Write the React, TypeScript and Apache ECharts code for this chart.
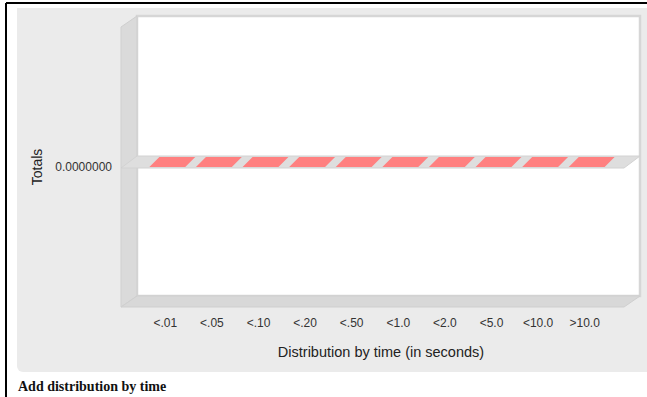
import React, { useEffect, useRef } from "react";
import * as echarts from "echarts";

const categories = ["<.01", "<.05", "<.10", "<.20", "<.50", "<1.0", "<2.0", "<5.0", "<10.0", ">10.0"];
const totals = [0, 0, 0, 0, 0, 0, 0, 0, 0, 0];
const yTickValues = [0];
const yTickLabel = "0.0000000";
const xTitle = "Distribution by time (in seconds)";
const yTitle = "Totals";
const caption = "Add distribution by time";

const DX = 16;
const DY = 11;
const FRONT_LEFT = 121;
const FRONT_RIGHT = 624;
const FRONT_TOP = 27;
const FRONT_BOTTOM = 307;
const FONT = "'Liberation Sans', Arial, sans-serif";

export default function App() {
  const ref = useRef<HTMLDivElement>(null);
  useEffect(() => {
    if (!ref.current) return;
    const chart = echarts.init(ref.current, undefined, { renderer: "svg" });
    const option: any = {
      animation: false,
      backgroundColor: "#ffffff",
      graphic: [
        { type: "line", shape: { x1: 6, y1: 3, x2: 647, y2: 3 }, style: { stroke: "#000", lineWidth: 2 }, z: -10 },
        { type: "line", shape: { x1: 6, y1: 3, x2: 6, y2: 397 }, style: { stroke: "#000", lineWidth: 2 }, z: -10 },
        { type: "rect", shape: { x: 17, y: 8, width: 640, height: 364, r: [0, 0, 0, 6] }, style: { fill: "#ebebeb" }, z: -10 },
        // back wall
        { type: "rect", shape: { x: FRONT_LEFT + DX, y: FRONT_TOP - DY, width: FRONT_RIGHT - FRONT_LEFT, height: FRONT_BOTTOM - FRONT_TOP }, style: { fill: "#ffffff", stroke: "#d6d6d6", lineWidth: 2.5 }, z: -9 },
        // left wall
        { type: "polygon", shape: { points: [[FRONT_LEFT, FRONT_TOP], [FRONT_LEFT + DX, FRONT_TOP - DY], [FRONT_LEFT + DX, FRONT_BOTTOM - DY], [FRONT_LEFT, FRONT_BOTTOM]] }, style: { fill: "#dadada", stroke: "#cfcfcf", lineWidth: 1 }, z: -8 },
        // floor
        { type: "polygon", shape: { points: [[FRONT_LEFT, FRONT_BOTTOM], [FRONT_LEFT + DX, FRONT_BOTTOM - DY], [FRONT_RIGHT + DX, FRONT_BOTTOM - DY], [FRONT_RIGHT, FRONT_BOTTOM]] }, style: { fill: "#d8d8d8", stroke: "#cfcfcf", lineWidth: 1 }, z: -8 },
        { type: "text", left: 18, top: 379, style: { text: caption, font: "bold 14px 'Liberation Serif', 'Times New Roman', serif", fill: "#111" } },
      ],
      grid: { left: 142, right: 39, top: FRONT_TOP, bottom: 397 - FRONT_BOTTOM },
      xAxis: {
        type: "category",
        data: categories,
        axisLine: { show: false },
        axisTick: { show: false },
        axisLabel: { margin: 10, fontFamily: FONT, fontSize: 12, color: "#333" },
        name: xTitle,
        nameLocation: "middle",
        nameGap: 37,
        nameTextStyle: { fontFamily: FONT, fontSize: 14.5, color: "#222", padding: [0, 0, 0, 12] },
      },
      yAxis: {
        type: "value",
        min: -1,
        max: 1,
        interval: 1,
        offset: 142 - FRONT_LEFT,
        splitLine: { show: false },
        axisLine: { show: false },
        axisTick: { show: true, inside: true, length: 3, customValues: yTickValues, lineStyle: { color: "#888" } },
        axisLabel: {
          margin: 9,
          customValues: yTickValues,
          formatter: (v: number) => (v === 0 ? yTickLabel : ""),
          fontFamily: FONT,
          fontSize: 12,
          color: "#333",
        },
        name: yTitle,
        nameLocation: "middle",
        nameGap: 74,
        nameTextStyle: { fontFamily: FONT, fontSize: 14, color: "#222" },
      },
      series: [
        {
          type: "custom",
          data: [[0, 0]],
          z: 1,
          renderItem: (params: any, api: any) => {
            const y0 = api.coord([0, 0])[1];
            return {
              type: "polygon",
              shape: { points: [[FRONT_LEFT, y0 + 1], [FRONT_LEFT + DX, y0 - DY], [FRONT_RIGHT + DX, y0 - DY], [FRONT_RIGHT, y0 + 1]] },
              style: { fill: "#dedede", stroke: "#d2d2d2", lineWidth: 1 },
              silent: true,
            };
          },
        },
        {
          type: "custom",
          data: totals.map((v, i) => [i, v]),
          z: 2,
          renderItem: (params: any, api: any) => {
            const i = api.value(0);
            const v = api.value(1);
            const top = api.coord([i, v]);
            const base = api.coord([i, 0]);
            const w = api.size([1, 0])[0] * 0.77;
            const cx = top[0] + 2;
            const x1 = cx - w / 2;
            const x2 = cx + w / 2;
            const yt = Math.min(top[1], base[1]);
            const yb = Math.max(top[1], base[1]);
            const d = 10;
            const dy = 10;
            const children: any[] = [];
            if (yb - yt > 0.5) {
              children.push({ type: "rect", shape: { x: x1, y: yt, width: w, height: yb - yt }, style: { fill: "#ff8080" } });
              children.push({ type: "polygon", shape: { points: [[x2, yt], [x2 + d, yt - dy], [x2 + d, yb - dy], [x2, yb]] }, style: { fill: "#cc6666" } });
            }
            children.push({ type: "polygon", shape: { points: [[x1, yt], [x1 + d, yt - dy], [x2 + d, yt - dy], [x2, yt]] }, style: { fill: "#ff8080" } });
            return { type: "group", children };
          },
        },
      ],
    };
    chart.setOption(option);
    return () => chart.dispose();
  }, []);
  return <div ref={ref} style={{ position: "fixed", left: 0, top: 0, width: 647, height: 397 }} />;
}
